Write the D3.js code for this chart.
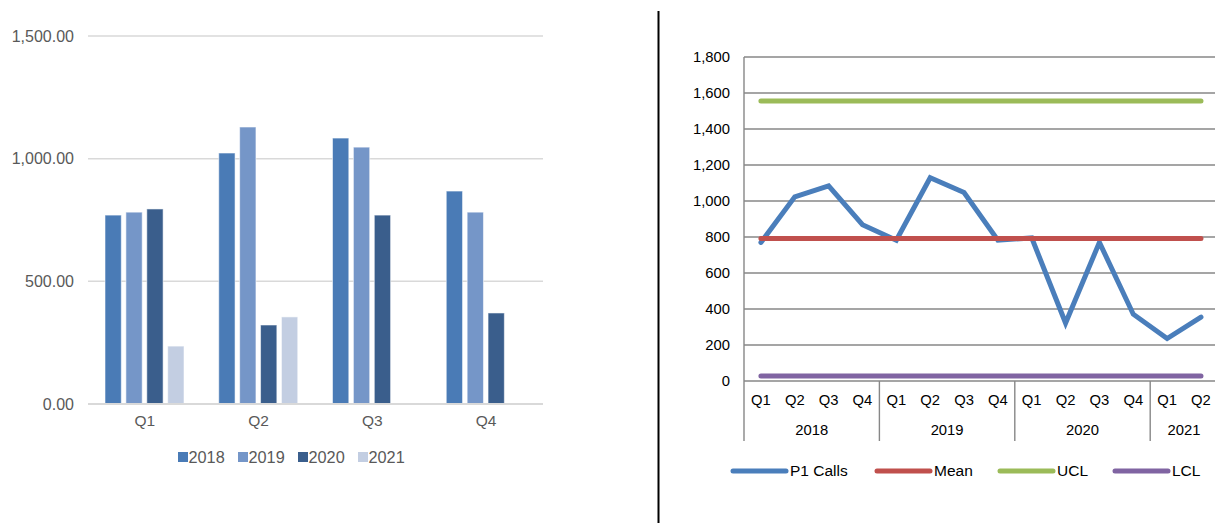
<!DOCTYPE html>
<html>
<head>
<meta charset="utf-8">
<script src="https://cdn.jsdelivr.net/npm/d3@7"></script>
<style>
  html, body { margin: 0; padding: 0; background: #fff; }
  svg { display: block; font-family: "Liberation Sans", Arial, sans-serif; }
</style>
</head>
<body>
<svg id="chart" width="1215" height="523"></svg>
<script>
// Quarterly P1 call volumes by year
const quarters = ["Q1", "Q2", "Q3", "Q4"];
const years = ["2018", "2019", "2020", "2021"];
const calls2018 = [770, 1023, 1084, 868];
const calls2019 = [782, 1129, 1047, 782];
const calls2020 = [795, 322, 770, 371];
const calls2021 = [236, 355];
const barTicks = [0, 500, 1000, 1500];
const yearColors = ["#4a7bb6", "#7596c8", "#3a5e8c", "#c3cee2"];

// Control chart series
const periodQuarters = ["Q1","Q2","Q3","Q4","Q1","Q2","Q3","Q4","Q1","Q2","Q3","Q4","Q1","Q2"];
const periodYears = ["2018","2018","2018","2018","2019","2019","2019","2019","2020","2020","2020","2020","2021","2021"];
const p1Calls = [770, 1023, 1084, 868, 782, 1129, 1047, 782, 795, 322, 770, 371, 236, 355];
const meanValue = 792;
const uclValue = 1556;
const lclValue = 28;
const lineTicks = [0, 200, 400, 600, 800, 1000, 1200, 1400, 1600, 1800];
const seriesNames = ["P1 Calls", "Mean", "UCL", "LCL"];
const seriesColors = ["#4a7ebb", "#c0504d", "#9bbb59", "#8064a2"];

const svg = d3.select("#chart");

// ---------- Clustered bar chart ----------
const byYear = [calls2018, calls2019, calls2020, calls2021];
const barData = quarters.map((q, i) => ({
  quarter: q,
  values: years.map((y, j) => ({ year: y, value: byYear[j][i], color: yearColors[j] }))
    .filter(d => d.value !== undefined)
}));

const bx0 = d3.scaleBand().domain(quarters).range([88, 543]);
const bx1 = d3.scaleBand().domain(years).range([17, 96]).paddingInner(0.22);
const by = d3.scaleLinear().domain([0, 1500]).range([404, 36]);

const left = svg.append("g");

left.append("g")
  .selectAll("line")
  .data(barTicks.filter(t => t > 0))
  .join("line")
  .attr("x1", 88).attr("x2", 543)
  .attr("y1", d => by(d)).attr("y2", d => by(d))
  .attr("stroke", "#d9d9d9").attr("stroke-width", 1.5);

const groups = left.append("g")
  .selectAll("g")
  .data(barData)
  .join("g")
  .attr("transform", d => `translate(${bx0(d.quarter)},0)`);

groups.selectAll("rect")
  .data(d => d.values)
  .join("rect")
  .attr("x", d => bx1(d.year))
  .attr("y", d => by(d.value))
  .attr("width", bx1.bandwidth())
  .attr("height", d => by(0) - by(d.value))
  .attr("fill", d => d.color)
  .attr("stroke", "#ffffff").attr("stroke-opacity", 0.55).attr("stroke-width", 1);

left.append("line")
  .attr("x1", 88).attr("x2", 543)
  .attr("y1", by(0)).attr("y2", by(0))
  .attr("stroke", "#d9d9d9").attr("stroke-width", 2);

const leftY = d3.axisLeft(by).tickValues(barTicks).tickFormat(d3.format(",.2f")).tickSize(0).tickPadding(0);
left.append("g")
  .attr("transform", "translate(74,0)")
  .call(leftY)
  .call(g => g.select(".domain").remove())
  .call(g => g.selectAll("text").attr("fill", "#595959").attr("font-size", 16).attr("font-family", "Liberation Sans, Arial, sans-serif"));

const leftX = d3.axisBottom(bx0).tickSize(0).tickPadding(0);
left.append("g")
  .attr("transform", "translate(0,415)")
  .call(leftX)
  .call(g => g.select(".domain").remove())
  .call(g => g.selectAll("text").attr("fill", "#595959").attr("font-size", 15.5).attr("font-family", "Liberation Sans, Arial, sans-serif"));

// Bar legend
const legendX = [178, 238, 298, 358];
const barLegend = left.append("g")
  .selectAll("g")
  .data(years)
  .join("g")
  .attr("transform", (d, i) => `translate(${legendX[i]},452)`);
barLegend.append("rect")
  .attr("width", 10).attr("height", 10)
  .attr("fill", (d, i) => yearColors[i]);
barLegend.append("text")
  .attr("x", 10.5).attr("y", 5).attr("dy", "0.35em")
  .attr("fill", "#595959").attr("font-size", 16.3)
  .text(d => d);

// ---------- Divider ----------
svg.append("line")
  .attr("x1", 658.5).attr("x2", 658.5)
  .attr("y1", 11).attr("y2", 523)
  .attr("stroke", "#000").attr("stroke-width", 2);

// ---------- Control chart ----------
const right = svg.append("g");
const lx = d3.scaleBand().domain(d3.range(p1Calls.length)).range([744, 744 + 33.85 * p1Calls.length]);
const ly = d3.scaleLinear().domain([0, 1800]).range([381, 57]);
const cx = i => lx(i) + lx.bandwidth() / 2;

right.append("g")
  .selectAll("line")
  .data(lineTicks)
  .join("line")
  .attr("x1", 744).attr("x2", 1215)
  .attr("y1", d => ly(d)).attr("y2", d => ly(d))
  .attr("stroke", "#878787").attr("stroke-width", 1.4);

const rightY = d3.axisLeft(ly).tickValues(lineTicks).tickFormat(d3.format(",")).tickSize(0).tickPadding(0);
right.append("g")
  .attr("transform", "translate(730,0)")
  .call(rightY)
  .call(g => g.select(".domain").remove())
  .call(g => g.selectAll("text").attr("fill", "#000").attr("font-size", 14.8).attr("font-family", "Liberation Sans, Arial, sans-serif"));

// Vertical axis line and year separators
const yearStarts = periodYears.map((y, i) => i).filter(i => i === 0 || periodYears[i] !== periodYears[i - 1]);
right.append("line")
  .attr("x1", 744).attr("x2", 744)
  .attr("y1", ly(1800)).attr("y2", 441)
  .attr("stroke", "#878787").attr("stroke-width", 1.4);
right.append("g")
  .selectAll("line")
  .data(yearStarts.slice(1))
  .join("line")
  .attr("x1", i => lx(i)).attr("x2", i => lx(i))
  .attr("y1", ly(0)).attr("y2", 441)
  .attr("stroke", "#878787").attr("stroke-width", 1.4);

// Quarter labels
right.append("g")
  .selectAll("text")
  .data(periodQuarters)
  .join("text")
  .attr("x", (d, i) => cx(i))
  .attr("y", 400).attr("dy", "0.35em")
  .attr("text-anchor", "middle")
  .attr("fill", "#000").attr("font-size", 14.8)
  .text(d => d);

// Year labels, centred under their quarters
const yearGroups = d3.groups(periodYears.map((y, i) => ({ y, i })), d => d.y);
right.append("g")
  .selectAll("text")
  .data(yearGroups)
  .join("text")
  .attr("x", d => (lx(d[1][0].i) + lx(d[1][d[1].length - 1].i) + lx.bandwidth()) / 2)
  .attr("y", 430).attr("dy", "0.35em")
  .attr("text-anchor", "middle")
  .attr("fill", "#000").attr("font-size", 14.8)
  .text(d => d[0]);

// Series lines
const lineGen = d3.line().x((d, i) => cx(i)).y(d => ly(d));
const seriesValues = [
  p1Calls,
  p1Calls.map(() => meanValue),
  p1Calls.map(() => uclValue),
  p1Calls.map(() => lclValue)
];
right.append("g")
  .selectAll("path")
  .data(seriesValues)
  .join("path")
  .attr("d", d => lineGen(d))
  .attr("fill", "none")
  .attr("stroke", (d, i) => seriesColors[i])
  .attr("stroke-width", 5)
  .attr("stroke-linecap", "round")
  .attr("stroke-linejoin", "miter");

// Line legend
const lineLegendX = [733, 877, 1000, 1115];
const lineLegend = right.append("g")
  .selectAll("g")
  .data(seriesNames)
  .join("g")
  .attr("transform", (d, i) => `translate(${lineLegendX[i]},471)`);
lineLegend.append("line")
  .attr("x1", 0).attr("x2", 53)
  .attr("stroke", (d, i) => seriesColors[i])
  .attr("stroke-width", 5)
  .attr("stroke-linecap", "round");
lineLegend.append("text")
  .attr("x", 57).attr("dy", "0.35em")
  .attr("fill", "#000").attr("font-size", 15.5)
  .text(d => d);
</script>
</body>
</html>
